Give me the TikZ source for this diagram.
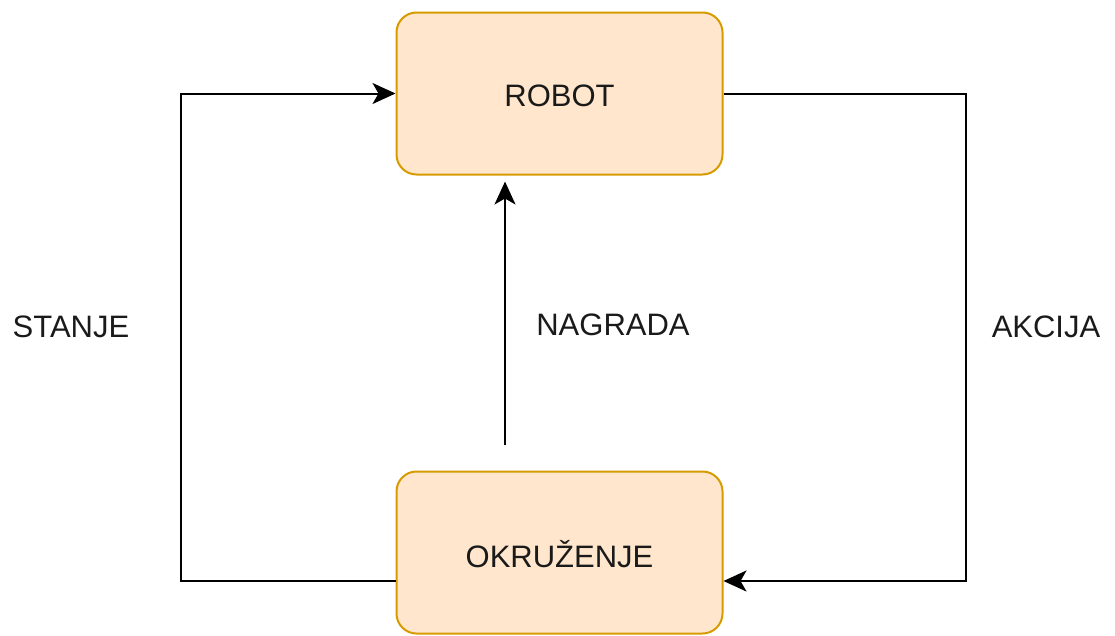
\documentclass[tikz,border=0pt]{standalone}
\usepackage{fontspec}
\setmainfont{Liberation Sans}
\usetikzlibrary{arrows.meta}
\definecolor{boxfill}{HTML}{FFE6CC}
\definecolor{boxdraw}{HTML}{D79B00}
\definecolor{txt}{HTML}{1A1A1A}
\begin{document}
\begin{tikzpicture}[x=1pt,y=-1pt,
  box/.style={draw=boxdraw, fill=boxfill, line width=2pt, rounded corners=20pt,
    minimum width=326pt, minimum height=162pt, inner sep=0pt},
  lbl/.style={font=\fontsize{31}{31}\selectfont, text=txt, text height=22pt, text depth=0pt, inner sep=0pt},
  conn/.style={draw=black, line width=2pt, -{Stealth[length=23pt,width=21pt,inset=6pt]}}
]
\useasboundingbox (0,0) rectangle (1115,635);
\node[box] (robot) at (559.5,93.5) {};
\node[box] (okr) at (559.5,552.5) {};
\node[lbl] (robottxt) at (559.5,95) {ROBOT};
\node[lbl] (okrtxt) at (559.5,556) {OKRUŽENJE};
\node[lbl] (stanje) at (71,326) {STANJE};
\node[lbl] (nagrada) at (613,324) {NAGRADA};
\node[lbl] (akcija) at (1046,326) {AKCIJA};
\coordinate (lb) at (181,581);
\coordinate (rb) at (966,581);
\coordinate (mid) at (505,445);
\draw[conn] ([yshift=-28.5pt]okr.west) -- (lb) |- (robot.west);
\draw[conn] (robot.east) -| (rb) -- ([yshift=-28.5pt]okr.east);
\draw[conn, shorten >=6pt] (mid) -- (mid |- robot.south);
\end{tikzpicture}
\end{document}
